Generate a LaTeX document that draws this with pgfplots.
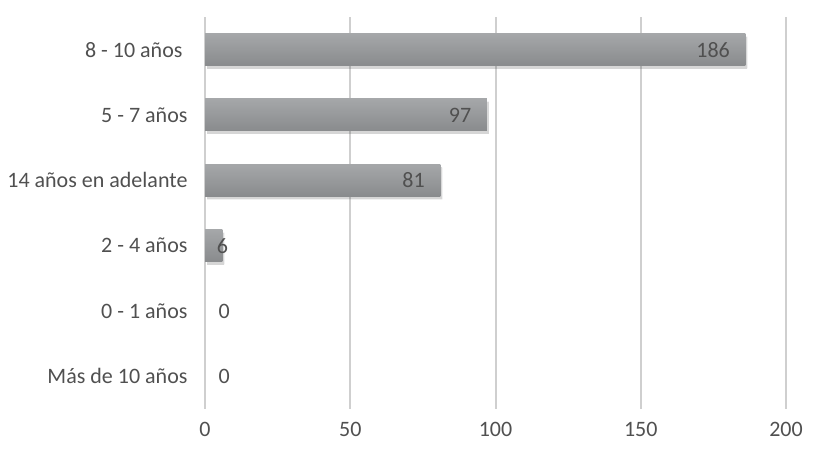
\documentclass[border=0pt]{standalone}
\usepackage{fontspec}
\setmainfont{Carlito}
\usepackage{pgfplots}
\pgfplotsset{compat=1.18}
\definecolor{txt}{HTML}{505050}
\definecolor{gridc}{HTML}{CFCFCF}
\definecolor{barT}{HTML}{A5A7A9}
\definecolor{barB}{HTML}{898B8D}
\tikzset{
  lbl/.style={font=\fontsize{22}{25}\selectfont, text=txt}
}
\pgfplotsset{
  mybar/.style={draw=none, top color=barT, bottom color=barB,
    preaction={fill=black, opacity=0.12, transform canvas={xshift=2pt, yshift=-3pt}},
    nodes near coords}
}
\begin{document}
\begin{tikzpicture}[x=1pt,y=1pt]
\useasboundingbox (0,0) rectangle (816,454);
\begin{axis}[at={(205pt,45pt)}, anchor=south west, scale only axis,
  width=581pt, height=392pt,
  xmin=0, xmax=200, ymin=-0.5, ymax=5.5,
  xtick={0,50,...,200}, ytick={0,...,5},
  yticklabels={Más de 10 años, 0 - 1 años, 2 - 4 años, 14 años en adelante, 5 - 7 años, {8 - 10 años\rule{5pt}{0pt}}},
  xmajorgrids, grid style={gridc, line width=2pt},
  axis line style={draw=none}, major tick length=0pt,
  tick label style={font=\fontsize{22}{25}\selectfont, text=txt},
  /pgf/number format/assume math mode=true,
  xticklabel style={yshift=-10pt},
  yticklabel style={xshift=-14pt},
  xbar, bar width=32pt, bar shift=0pt,
  clip=false]
\addplot[mybar, nodes near coords style={anchor=east, xshift=-12pt, lbl}]
  coordinates {(186,5)};
\addplot[mybar, nodes near coords style={anchor=east, xshift=-12pt, lbl}]
  coordinates {(97,4)};
\addplot[mybar, nodes near coords style={anchor=east, xshift=-12pt, lbl}]
  coordinates {(81,3)};
\addplot[mybar, nodes near coords style={anchor=center, xshift=0pt, lbl}]
  coordinates {(6,2)};
\addplot[draw=none, fill=none, nodes near coords,
  nodes near coords style={anchor=west, xshift=10pt, lbl}]
  coordinates {(0,1) (0,0)};
\end{axis}
\end{tikzpicture}
\end{document}
